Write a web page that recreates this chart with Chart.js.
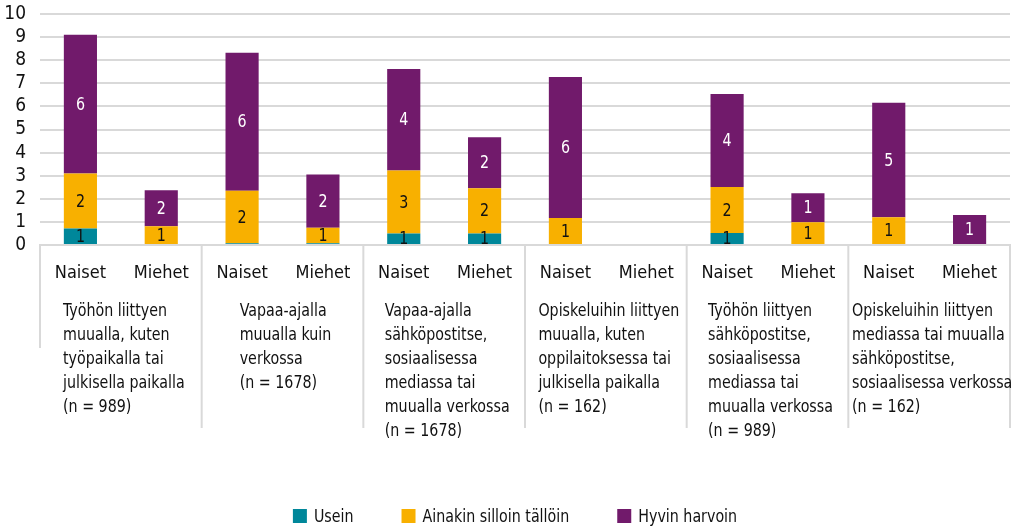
<!DOCTYPE html>
<html>
<head>
<meta charset="utf-8">
<script src="https://cdn.jsdelivr.net/npm/chart.js@4.4.1/dist/chart.umd.min.js"></script>
<style>
  html, body { margin: 0; padding: 0; background: #ffffff; }
  #wrap { width: 1015px; height: 528px; position: relative; }
</style>
</head>
<body>
<div id="wrap"><canvas id="c" width="1015" height="528"></canvas></div>
<script>
const FONT = "'DejaVu Sans Condensed', 'Liberation Sans', sans-serif";
const SQUEEZE = 0.88;

const genders = ["Naiset", "Miehet"];
const groupLabels = [
  ["Työhön liittyen", "muualla, kuten", "työpaikalla tai", "julkisella paikalla", "(n = 989)"],
  ["Vapaa-ajalla", "muualla kuin", "verkossa", "(n = 1678)"],
  ["Vapaa-ajalla", "sähköpostitse,", "sosiaalisessa", "mediassa tai", "muualla verkossa", "(n = 1678)"],
  ["Opiskeluihin liittyen", "muualla, kuten", "oppilaitoksessa tai", "julkisella paikalla", "(n = 162)"],
  ["Työhön liittyen", "sähköpostitse,", "sosiaalisessa", "mediassa tai", "muualla verkossa", "(n = 989)"],
  ["Opiskeluihin liittyen", "mediassa tai muualla", "sähköpostitse,", "sosiaalisessa verkossa", "(n = 162)"]
];
const seriesNames = ["Usein", "Ainakin silloin tällöin", "Hyvin harvoin"];
const seriesColors = ["#00879A", "#F8B000", "#711A6B"];

// order: group1 Naiset, group1 Miehet, group2 Naiset, ...
const usein    = [0.71, 0,    0.08, 0.08, 0.5,  0.5,  0,    0, 0.52, 0,    0,    0];
const ainakin  = [2.39, 0.81, 2.27, 0.67, 2.72, 1.96, 1.17, 0, 1.99, 0.98, 1.2,  0];
const harvoin  = [6.0,  1.56, 5.97, 2.3,  4.4,  2.2,  6.1,  0, 4.03, 1.26, 4.96, 1.3];
const yTicks = [0,1,2,3,4,5,6,7,8,9,10];

const categories = [];
groupLabels.forEach(() => genders.forEach(g => categories.push(g)));

const seriesValues = [usein, ainakin, harvoin];

function squeezedText(ctx, text, x, y) {
  ctx.save();
  ctx.translate(x, y);
  ctx.scale(SQUEEZE, 1);
  ctx.fillText(text, 0, 0);
  ctx.restore();
}

const overlay = {
  id: 'overlay',
  afterDatasetsDraw(chart) {
    const ctx = chart.ctx;
    const xs = chart.scales.x;
    const area = chart.chartArea;
    ctx.save();
    // data labels
    ctx.font = "18px " + FONT;
    ctx.textAlign = 'center';
    ctx.textBaseline = 'middle';
    chart.data.datasets.forEach((ds, di) => {
      const meta = chart.getDatasetMeta(di);
      meta.data.forEach((el, i) => {
        const v = ds.data[i];
        const r = Math.round(v);
        if (r < 1) return;
        ctx.fillStyle = di === 2 ? '#ffffff' : '#111111';
        squeezedText(ctx, String(r), el.x, (el.y + el.base) / 2 + 1);
      });
    });
    // group separators
    const step = xs.getPixelForValue(1) - xs.getPixelForValue(0);
    ctx.strokeStyle = '#d9d9d9';
    ctx.lineWidth = 2;
    for (let g = 0; g <= groupLabels.length; g++) {
      const x = g < groupLabels.length ? xs.getPixelForValue(2 * g) - step / 2 : xs.getPixelForValue(2 * g - 1) + step / 2;
      const yEnd = g === 0 ? area.bottom + 103 : area.bottom + 183;
      ctx.beginPath();
      ctx.moveTo(x, area.bottom);
      ctx.lineTo(x, yEnd);
      ctx.stroke();
    }
    // group labels
    ctx.font = "18px " + FONT;
    ctx.fillStyle = '#111111';
    ctx.textAlign = 'left';
    groupLabels.forEach((lines, g) => {
      const cx = (xs.getPixelForValue(2 * g) + xs.getPixelForValue(2 * g + 1)) / 2;
      let maxW = 0;
      lines.forEach(l => { maxW = Math.max(maxW, ctx.measureText(l).width * SQUEEZE); });
      const x0 = cx - maxW / 2 + 3;
      lines.forEach((l, k) => {
        squeezedText(ctx, l, x0, area.bottom + 66 + k * 24);
      });
    });
    // legend
    ctx.font = "18px " + FONT;
    ctx.textBaseline = 'middle';
    const box = 14, gapText = 7, gapItem = 48;
    const items = chart.data.datasets.map(ds => ({label: ds.label, color: ds.backgroundColor, w: ctx.measureText(ds.label).width * SQUEEZE}));
    let total = 0;
    items.forEach((it, i) => { total += box + gapText + it.w + (i < items.length - 1 ? gapItem : 0); });
    let lx = 515 - total / 2;
    const ly = 516;
    items.forEach(it => {
      ctx.fillStyle = it.color;
      ctx.fillRect(lx, ly - box / 2, box, box);
      lx += box + gapText;
      ctx.fillStyle = '#111111';
      squeezedText(ctx, it.label, lx, ly + 1);
      lx += it.w + gapItem;
    });
    ctx.restore();
  }
};

new Chart(document.getElementById('c'), {
  type: 'bar',
  data: {
    labels: categories,
    datasets: seriesNames.map((name, i) => ({
      label: name,
      data: seriesValues[i],
      backgroundColor: seriesColors[i],
      borderWidth: 0,
      categoryPercentage: 0.41,
      barPercentage: 1.0
    }))
  },
  options: {
    responsive: false,
    animation: false,
    layout: { padding: { top: 14, right: 5, left: 0, bottom: 0 } },
    plugins: { legend: { display: false }, tooltip: { enabled: false } },
    scales: {
      x: {
        stacked: true,
        grid: { display: false },
        border: { display: true, color: '#d9d9d9', width: 2 },
        ticks: { color: '#111111', font: { family: FONT, size: 18 }, padding: 10, maxRotation: 0, autoSkip: false },
        afterFit(scale) { scale.height = 283; }
      },
      y: {
        stacked: true,
        min: 0,
        max: 10,
        afterBuildTicks(scale) { scale.ticks = yTicks.map(v => ({ value: v })); },
        grid: { color: '#d9d9d9', lineWidth: 2, drawTicks: false },
        border: { display: false },
        ticks: { color: '#111111', font: { family: FONT, size: 19 }, padding: 14, autoSkip: false },
        afterFit(scale) { scale.width = 40; scale.paddingTop = 0; scale.paddingBottom = 0; }
      }
    }
  },
  plugins: [overlay]
});
</script>
</body>
</html>
